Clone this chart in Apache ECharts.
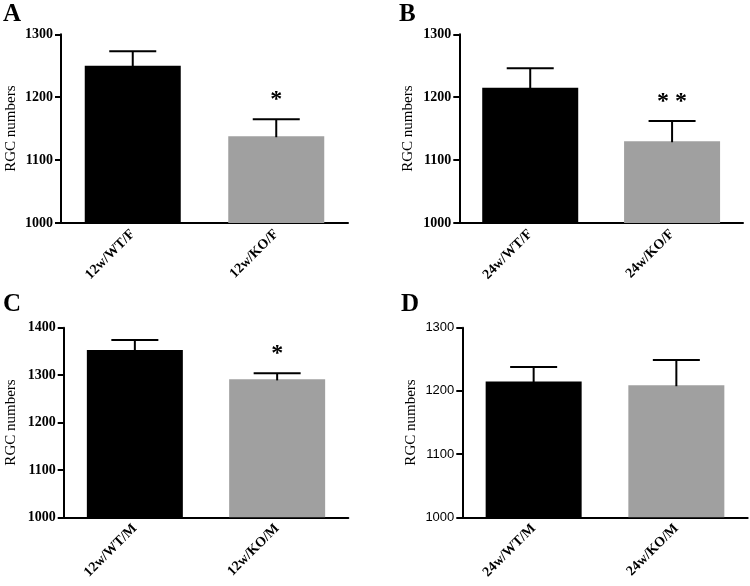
<!DOCTYPE html>
<html>
<head>
<meta charset="utf-8">
<script src="https://cdn.jsdelivr.net/npm/echarts@6/dist/echarts.min.js"></script>
<style>html,body{margin:0;padding:0;background:#fff}#c{width:750px;height:586px}</style>
</head>
<body>
<div id="c"></div>
<script>
// ---- data ----
const panelLabels = ['A', 'B', 'C', 'D'];
const catsA = ['12w/WT/F', '12w/KO/F'];
const meansA = [1250, 1138];
const semA = [23, 27];
const sigA = ['', '*'];
const catsB = ['24w/WT/F', '24w/KO/F'];
const meansB = [1215, 1130];
const semB = [31, 32];
const sigB = ['', '* *'];
const catsC = ['12w/WT/M', '12w/KO/M'];
const meansC = [1353, 1291];
const semC = [21, 13];
const sigC = ['', '*'];
const catsD = ['24w/WT/M', '24w/KO/M'];
const meansD = [1215, 1209];
const semD = [23, 40];
const sigD = ['', ''];
const yTicksAB = [1000, 1100, 1200, 1300];
const yTicksC = [1000, 1100, 1200, 1300, 1400];
const yTicksD = [1000, 1100, 1200, 1300];
const yName = 'RGC numbers';

const SERIF = "'Liberation Serif','Times New Roman',serif";
const SANS = "'Liberation Sans',Arial,sans-serif";
const barColors = ['#000000', '#a0a0a0'];

const panels = [
  {cats: catsA, means: meansA, sem: semA, sig: sigA, ticks: yTicksAB, grid: {left: 61, top: 34.3, width: 287, height: 188.7}, tickFont: SERIF, tickBold: 'bold', tickSize: 14, nameGap: 42, title: {left: 3, top: 2}},
  {cats: catsB, means: meansB, sem: semB, sig: sigB, ticks: yTicksAB, grid: {left: 459.3, top: 34.3, width: 283.7, height: 188.7}, tickFont: SERIF, tickBold: 'bold', tickSize: 14, nameGap: 44, title: {left: 399, top: 2}},
  {cats: catsC, means: meansC, sem: semC, sig: sigC, ticks: yTicksC, grid: {left: 63.7, top: 327.7, width: 284.6, height: 189.6}, tickFont: SERIF, tickBold: 'bold', tickSize: 14, nameGap: 45, title: {left: 3, top: 292}},
  {cats: catsD, means: meansD, sem: semD, sig: sigD, ticks: yTicksD, grid: {left: 462.3, top: 327.7, width: 285.4, height: 189.6}, tickFont: SANS, tickBold: 'normal', tickSize: 13, nameGap: 44, title: {left: 401, top: 292}}
];

const option = {
  animation: false,
  backgroundColor: '#fff',
  title: [], grid: [], xAxis: [], yAxis: [], series: []
};

panels.forEach((p, i) => {
  option.title.push({
    text: panelLabels[i], left: p.title.left, top: p.title.top, padding: 0,
    textStyle: {fontFamily: SERIF, fontWeight: 'bold', fontSize: 25, color: '#000'}
  });
  option.grid.push(Object.assign({containLabel: false}, p.grid));
  option.xAxis.push({
    type: 'category', gridIndex: i, data: p.cats,
    axisLine: {lineStyle: {color: '#000', width: 2}},
    axisTick: {alignWithLabel: true, length: 6, lineStyle: {color: '#000', width: 2}},
    axisLabel: {rotate: 45, margin: 9, color: '#000', fontFamily: SERIF, fontWeight: 'bold', fontSize: 14}
  });
  const mn = p.ticks[0], mx = p.ticks[p.ticks.length - 1];
  option.yAxis.push({
    type: 'value', gridIndex: i, min: mn, max: mx, interval: p.ticks[1] - p.ticks[0],
    name: yName, nameLocation: 'middle', nameGap: p.nameGap, nameRotate: 90,
    nameTextStyle: {fontFamily: SERIF, fontSize: 15, color: '#000'},
    splitLine: {show: false},
    axisLine: {show: true, lineStyle: {color: '#000', width: 2}},
    axisTick: {show: true, length: 6, lineStyle: {color: '#000', width: 2}},
    axisLabel: {margin: 8, color: '#000', fontFamily: p.tickFont, fontWeight: p.tickBold, fontSize: p.tickSize,
      formatter: v => String(v)}
  });
  option.series.push({
    type: 'bar', xAxisIndex: i, yAxisIndex: i, barWidth: 96,
    data: p.means.map((v, k) => ({value: v, itemStyle: {color: barColors[k]}})),
    z: 2
  });
  option.series.push({
    type: 'custom', xAxisIndex: i, yAxisIndex: i, z: 3,
    data: p.means.map((v, k) => [k, v, v + p.sem[k]]),
    renderItem: function (params, api) {
      const k = api.value(0);
      const base = api.coord([k, api.value(1)]);
      const top = api.coord([k, api.value(2)]);
      const half = 23.5;
      const children = [
        {type: 'line', shape: {x1: base[0], y1: base[1] + 1, x2: top[0], y2: top[1]}, style: {stroke: '#000', lineWidth: 2}},
        {type: 'line', shape: {x1: top[0] - half, y1: top[1], x2: top[0] + half, y2: top[1]}, style: {stroke: '#000', lineWidth: 2}}
      ];
      const s = p.sig[k];
      if (s) {
        children.push({type: 'text', style: {text: s, x: top[0], y: top[1] - 19, align: 'center', verticalAlign: 'middle', fontFamily: SERIF, fontWeight: 'bold', fontSize: 24, fill: '#000'}});
      }
      return {type: 'group', children: children};
    }
  });
});

const chart = echarts.init(document.getElementById('c'), null, {renderer: 'canvas'});
chart.setOption(option);
</script>
</body>
</html>
